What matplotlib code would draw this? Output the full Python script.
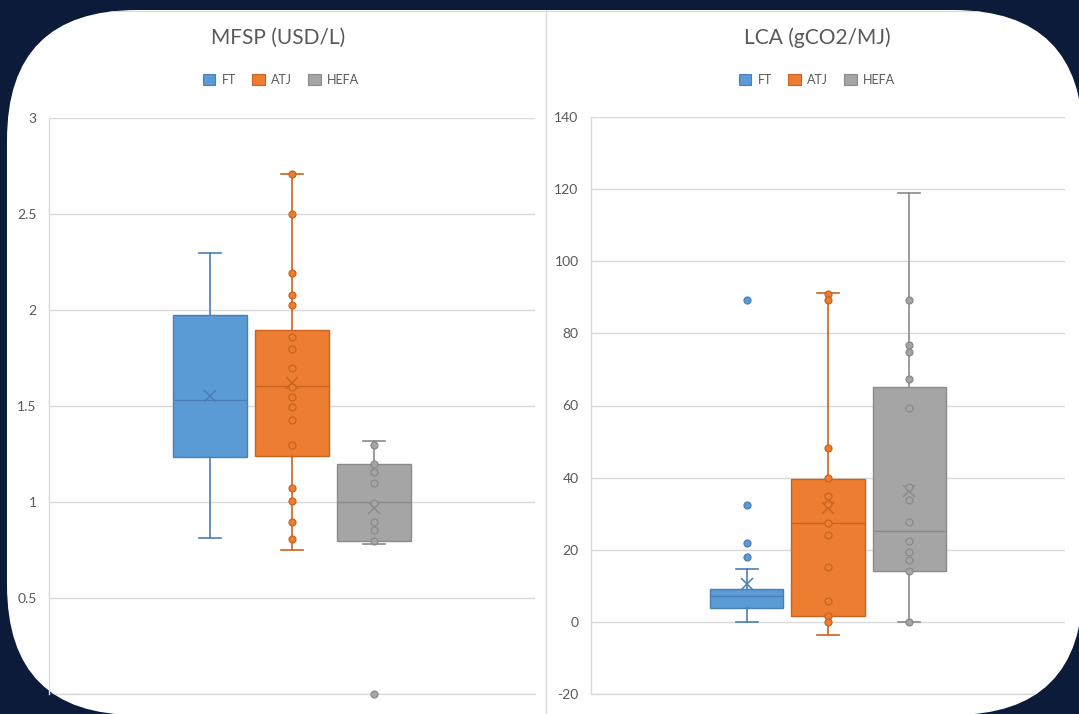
import matplotlib
matplotlib.use("Agg")
import matplotlib.pyplot as plt
import matplotlib.patches as mpatches
from matplotlib.lines import Line2D

# series order and colours
groups = ["FT", "ATJ", "HEFA"]
fill_colors = ["#5B9BD5", "#ED7D31", "#A5A5A5"]
edge_colors = ["#4A7FB5", "#C8641F", "#8A8A8A"]

# MFSP (USD/L) box statistics: whislo, q1, med, q3, whishi, mean
mfsp_whislo = [0.81, 0.75, 0.78]
mfsp_q1 = [1.235, 1.24, 0.795]
mfsp_med = [1.53, 1.605, 1.0]
mfsp_q3 = [1.975, 1.895, 1.2]
mfsp_whishi = [2.295, 2.71, 1.32]
mfsp_mean = [1.55, 1.62, 0.967]
mfsp_points_ft = []
mfsp_points_atj = [2.708, 2.498, 2.194, 2.078, 2.026, 1.858, 1.797, 1.696, 1.60,
                   1.545, 1.497, 1.427, 1.299, 1.075, 1.007, 0.898, 0.807]
mfsp_points_hefa = [1.299, 1.196, 1.155, 1.10, 0.997, 0.898, 0.853, 0.798, 0.0]

# LCA (gCO2/MJ) box statistics
lca_whislo = [0.0, -3.6, 0.0]
lca_q1 = [3.8, 1.5, 14.0]
lca_med = [7.3, 27.5, 25.2]
lca_q3 = [9.15, 39.6, 65.2]
lca_whishi = [14.7, 91.3, 118.8]
lca_mean = [10.4, 31.5, 36.4]
lca_points_ft = [89.3, 32.4, 22.0, 18.0]
lca_points_atj = [90.9, 89.3, 48.1, 39.8, 35.0, 32.6, 27.5, 24.1, 15.1, 5.8, 1.75, 0.1]
lca_points_hefa = [89.3, 76.8, 74.7, 67.4, 59.2, 37.5, 33.8, 27.6, 22.5, 19.5, 17.2, 14.0, 0.1]

mfsp_ticks = [0.5, 1, 1.5, 2, 2.5, 3]
mfsp_labels = ["0.5", "1", "1.5", "2", "2.5", "3"]
lca_ticks = [-20, 0, 20, 40, 60, 80, 100, 120, 140]

W, H = 1079, 714
txt = "#595959"
grid = "#D9D9D9"
font = "Lato"

fig = plt.figure(figsize=(W / 100, H / 100), dpi=100)
fig.patch.set_facecolor("#0B1B39")

# white rounded card behind the charts
bg = fig.add_axes([0, 0, 1, 1], zorder=-5)
bg.set_xlim(0, W)
bg.set_ylim(H, 0)
bg.axis("off")
card = mpatches.FancyBboxPatch((7, 10), 1083 - 7, 715 - 10,
                               boxstyle="round,pad=0,rounding_size=130",
                               facecolor="white", edgecolor="none")
bg.add_patch(card)
for ln in [Line2D([545.5, 545.5], [10, H], color=grid, lw=1),
           Line2D([7, W], [11, 11], color=grid, lw=0.8)]:
    ln.set_clip_path(card)
    bg.add_line(ln)


def px_axes(x0, x1, ytop, ybot):
    ax = fig.add_axes([x0 / W, (H - ybot) / H, (x1 - x0) / W, (ybot - ytop) / H])
    ax.set_facecolor("none")
    return ax


def draw_panel(ax, whislo, q1, med, q3, whishi, mean, points, show_points):
    for i in range(3):
        st = dict(whislo=whislo[i], q1=q1[i], med=med[i], q3=q3[i],
                  whishi=whishi[i], mean=mean[i], fliers=[])
        ec = edge_colors[i]
        ax.bxp([st], positions=[i + 1], widths=0.9, capwidths=0.27,
               patch_artist=True, showmeans=True, showfliers=False,
               boxprops=dict(facecolor=fill_colors[i], edgecolor=ec, linewidth=1.0),
               whiskerprops=dict(color=ec, linewidth=1.2),
               capprops=dict(color=ec, linewidth=1.2),
               medianprops=dict(color=ec, linewidth=1.0),
               meanprops=dict(marker="x", markeredgecolor=ec, markersize=8,
                              markeredgewidth=1.1),
               zorder=2)
        if show_points[i] and points[i]:
            ax.plot([i + 1] * len(points[i]), points[i], "o", ms=5,
                    mfc=fill_colors[i], mec=ec, mew=0.9, zorder=3, clip_on=False)
    ax.set_axisbelow(True)
    ax.yaxis.grid(True, color=grid, lw=1)
    ax.set_xticks([])
    for s in ["top", "right"]:
        ax.spines[s].set_visible(False)
    for s in ["left", "bottom"]:
        ax.spines[s].set_color(grid)
        ax.spines[s].set_linewidth(1)
    ax.tick_params(axis="y", length=0, pad=9, labelcolor=txt, labelsize=10)


def clip_to_card(ax):
    for t in ax.yaxis.get_major_ticks():
        t.gridline.set_clip_path(card)
    ax.spines["bottom"].set_clip_path(card)


# left panel
ax1 = px_axes(49, 535, 118, 694)
draw_panel(ax1, mfsp_whislo, mfsp_q1, mfsp_med, mfsp_q3, mfsp_whishi, mfsp_mean,
           [mfsp_points_ft, mfsp_points_atj, mfsp_points_hefa], [False, True, True])
ax1.set_ylim(0, 3)
ax1.set_xlim(-0.95, 4.95)
ax1.set_yticks(mfsp_ticks)
ax1.set_yticklabels(mfsp_labels, fontfamily=font)
ax1.axhline(0, color=grid, lw=1, zorder=0)
clip_to_card(ax1)

# right panel
ax2 = px_axes(591, 1065, 117, 694)
draw_panel(ax2, lca_whislo, lca_q1, lca_med, lca_q3, lca_whishi, lca_mean,
           [lca_points_ft, lca_points_atj, lca_points_hefa], [True, True, True])
ax2.set_ylim(-20, 140)
ax2.set_xlim(-0.91, 4.91)
ax2.set_yticks(lca_ticks)
ax2.set_yticklabels([str(t) for t in lca_ticks], fontfamily=font)
clip_to_card(ax2)

# titles and legends
handles = [mpatches.Patch(facecolor=fill_colors[i], edgecolor=edge_colors[i], lw=0.8,
                          label=groups[i]) for i in range(3)]
for title, xc, lx in [("MFSP (USD/L)", 278, 281), ("LCA (gCO2/MJ)", 817, 817)]:
    fig.text(xc / W, 1 - 38 / H, title, ha="center", va="center",
             fontsize=15, color=txt, fontfamily=font)
    fig.legend(handles=handles, loc="center", bbox_to_anchor=(lx / W, 1 - 80 / H),
               ncol=3, frameon=False, handlelength=1.0, handleheight=1.0,
               handletextpad=0.5, columnspacing=1.3,
               prop=dict(family=font, size=9), labelcolor=txt)

fig.savefig("out.png", dpi=100, facecolor=fig.get_facecolor())
